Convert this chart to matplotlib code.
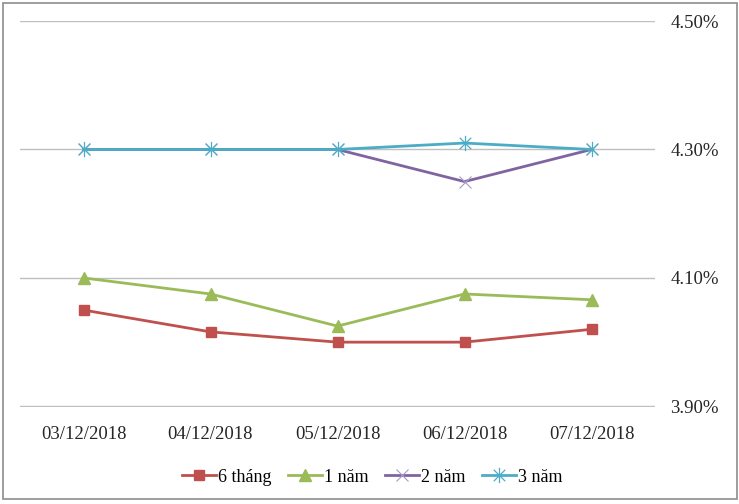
import matplotlib
matplotlib.use("Agg")
import matplotlib.pyplot as plt
from matplotlib.path import Path
from matplotlib.patches import Rectangle

dates = ["03/12/2018", "04/12/2018", "05/12/2018", "06/12/2018", "07/12/2018"]
s6m = [4.05, 4.016, 4.00, 4.00, 4.02]
s1y = [4.10, 4.075, 4.025, 4.075, 4.066]
s2y = [4.30, 4.30, 4.30, 4.25, 4.30]
s3y = [4.30, 4.30, 4.30, 4.31, 4.30]
labels = ["6 tháng", "1 năm", "2 năm", "3 năm"]
yticks = [3.90, 4.10, 4.30, 4.50]

plt.rcParams['font.family'] = ['Liberation Serif', 'DejaVu Serif']

fig = plt.figure(figsize=(7.39, 5.04), dpi=100)
ax = fig.add_axes([20/739, 1 - 406.7/504, 635/739, 386/504])

star = Path([(0, -1), (0, 1), (-0.75, -0.75), (0.75, 0.75), (-0.75, 0.75), (0.75, -0.75)],
            [Path.MOVETO, Path.LINETO, Path.MOVETO, Path.LINETO, Path.MOVETO, Path.LINETO])

x = list(range(len(dates)))
lw = 2.0
ax.plot(x, s6m, color="#C0504D", lw=lw, marker="s", ms=7.5, mec="#C0504D", mfc="#C0504D", label=labels[0])
ax.plot(x, s1y, color="#9BBB59", lw=lw, marker="^", ms=8.5, mec="#9BBB59", mfc="#9BBB59", label=labels[1])
ax.plot(x, s2y, color="#8064A2", lw=lw, marker="x", ms=9, mew=0.8, mec="#A899C8", label=labels[2])
ax.plot(x, s3y, color="#4BACC6", lw=lw, marker=star, ms=11, mew=0.9, mec="#4BACC6", label=labels[3])

ax.set_xlim(-0.5, len(dates) - 0.5)
ax.set_ylim(3.8995, 4.5005)
ax.set_yticks(yticks)
ax.set_yticklabels([f"{v:.2f}%" for v in yticks])
ax.set_xticks(x)
ax.set_xticklabels(dates)
ax.yaxis.tick_right()
ax.tick_params(axis='both', length=0, labelsize=13.5, colors="#262626")
ax.tick_params(axis='y', pad=11)
ax.tick_params(axis='x', pad=14)
ax.grid(axis='y', color="#BFBFBF", lw=1.0)
ax.set_axisbelow(True)
for s in ax.spines.values():
    s.set_visible(False)

leg = fig.legend(loc='center', bbox_to_anchor=(372/739, 1 - 477/504), ncol=4, frameon=False,
                 fontsize=13, handlelength=1.9, handletextpad=0.1, columnspacing=0.9)

fig.patches.append(Rectangle((3/739, 5/504), 734/739, 496/504, transform=fig.transFigure,
                             fill=False, edgecolor="#8C8C8C", lw=1.2))

fig.savefig("out.png", dpi=100)
